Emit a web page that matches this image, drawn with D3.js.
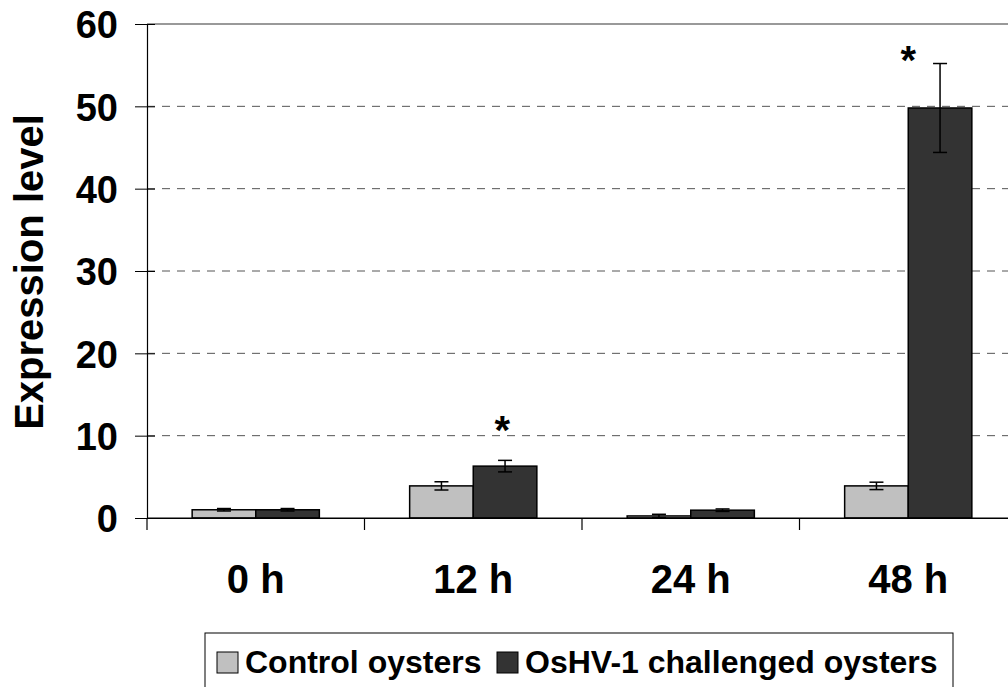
<!DOCTYPE html>
<html><head><meta charset="utf-8">
<script src="https://cdn.jsdelivr.net/npm/d3@7"></script>
<style>body{margin:0;background:#fff}svg{display:block}text{font-family:"Liberation Sans",Arial,sans-serif;font-weight:bold}</style>
</head><body><svg id="c" width="1008" height="687"></svg>
<script>
const categories = ["0 h", "12 h", "24 h", "48 h"];
const seriesNames = ["Control oysters", "OsHV-1 challenged oysters"];
const controlValues = [1.0, 3.9, 0.25, 3.9];
const controlErrors = [0.15, 0.5, 0.2, 0.45];
const challengedValues = [1.0, 6.3, 0.95, 49.8];
const challengedErrors = [0.15, 0.7, 0.15, 5.4];
// significance markers: [category, position within band (0..1), height in y units]
const asterisks = [["12 h", 0.634, 11.7], ["48 h", 0.50, 56.6]];
const yTicks = [0, 10, 20, 30, 40, 50, 60];
const colors = ["#c0c0c0", "#333333"];

const svg = d3.select("#c");
const pL = 147, pR = 1017, pT = 24, pB = 518;
const x = d3.scaleBand().domain(categories).range([pL, pR]).paddingInner(0).paddingOuter(0);
const xs = d3.scaleBand().domain([0, 1]).range([0, x.bandwidth()]).paddingInner(0).paddingOuter(0.71);
const y = d3.scaleLinear().domain([0, 60]).range([pB, pT]);

// gridlines
svg.append("g").selectAll("line").data(yTicks.filter(t => t > 0 && t < 60)).join("line")
  .attr("x1", pL).attr("x2", 1008).attr("y1", d => y(d)).attr("y2", d => y(d))
  .attr("stroke", "#555").attr("stroke-width", 1).attr("stroke-dasharray", "8,7");
// top border
svg.append("line").attr("x1", pL).attr("x2", 1008).attr("y1", y(60)).attr("y2", y(60))
  .attr("stroke", "#999").attr("stroke-width", 2);

const series = [
  {vals: controlValues, errs: controlErrors},
  {vals: challengedValues, errs: challengedErrors}
];
series.forEach((s, si) => {
  const g = svg.append("g");
  g.selectAll("rect").data(categories).join("rect")
    .attr("x", d => x(d) + xs(si)).attr("width", xs.bandwidth())
    .attr("y", (d, i) => y(s.vals[i])).attr("height", (d, i) => y(0) - y(s.vals[i]))
    .attr("fill", colors[si]).attr("stroke", "#000").attr("stroke-width", 1.5);
  categories.forEach((d, i) => {
    const cx = x(d) + xs(si) + xs.bandwidth() / 2;
    const y1 = y(s.vals[i] + s.errs[i]), y2 = y(Math.max(0, s.vals[i] - s.errs[i]));
    g.append("line").attr("x1", cx).attr("x2", cx).attr("y1", y1).attr("y2", y2).attr("stroke", "#000").attr("stroke-width", 1.5);
    [y1, y2].forEach(yy => g.append("line").attr("x1", cx - 7).attr("x2", cx + 7).attr("y1", yy).attr("y2", yy).attr("stroke", "#000").attr("stroke-width", 1.5));
  });
});

// asterisks
asterisks.forEach(([c, f, h]) => {
  svg.append("text").attr("x", x(c) + f * x.bandwidth()).attr("y", y(h) + 22)
    .attr("text-anchor", "middle").attr("font-size", 40).text("*");
});

// axes
const yAxis = d3.axisLeft(y).tickValues(yTicks).tickSizeInner(12).tickSizeOuter(0).tickPadding(17);
const ga = svg.append("g").attr("transform", `translate(${pL},0)`).call(yAxis);
ga.select(".domain").attr("stroke", "#000").attr("stroke-width", 1.2);
ga.selectAll(".tick line").attr("stroke", "#000").attr("x2", -12).attr("x1", 8);
ga.selectAll(".tick text").attr("font-size", 38).attr("font-family", "Liberation Sans, Arial, sans-serif").attr("font-weight", "bold").attr("fill", "#000").attr("dy", "0.36em");

const xAxis = d3.axisBottom(x).tickSize(0).tickPadding(47);
const gx = svg.append("g").attr("transform", `translate(0,${pB})`).call(xAxis);
gx.select(".domain").attr("stroke", "#000").attr("stroke-width", 1.2);
gx.selectAll(".tick text").attr("font-size", 40).attr("font-family", "Liberation Sans, Arial, sans-serif").attr("font-weight", "bold").attr("fill", "#000");
svg.append("line").attr("x1", pL).attr("x2", 1008).attr("y1", pB).attr("y2", pB).attr("stroke", "#000").attr("stroke-width", 1.2);
// category separators
svg.append("g").selectAll("line").data(categories).join("line")
  .attr("x1", d => x(d)).attr("x2", d => x(d)).attr("y1", pB).attr("y2", pB + 12)
  .attr("stroke", "#000").attr("stroke-width", 1.2);

// y label
svg.append("text").attr("transform", "translate(43,272) rotate(-90)").attr("text-anchor", "middle")
  .attr("font-size", 40).text("Expression level");

// legend
const lg = svg.append("g");
lg.append("rect").attr("x", 205).attr("y", 633).attr("width", 748).attr("height", 80).attr("fill", "#fff").attr("stroke", "#000").attr("stroke-width", 1);
const lx = [217, 497];
seriesNames.forEach((n, i) => {
  lg.append("rect").attr("x", lx[i]).attr("y", 652).attr("width", 21).attr("height", 21).attr("fill", colors[i]).attr("stroke", "#000").attr("stroke-width", 1);
  lg.append("text").attr("x", lx[i] + 28).attr("y", 673).attr("font-size", 32).text(n);
});
</script></body></html>
